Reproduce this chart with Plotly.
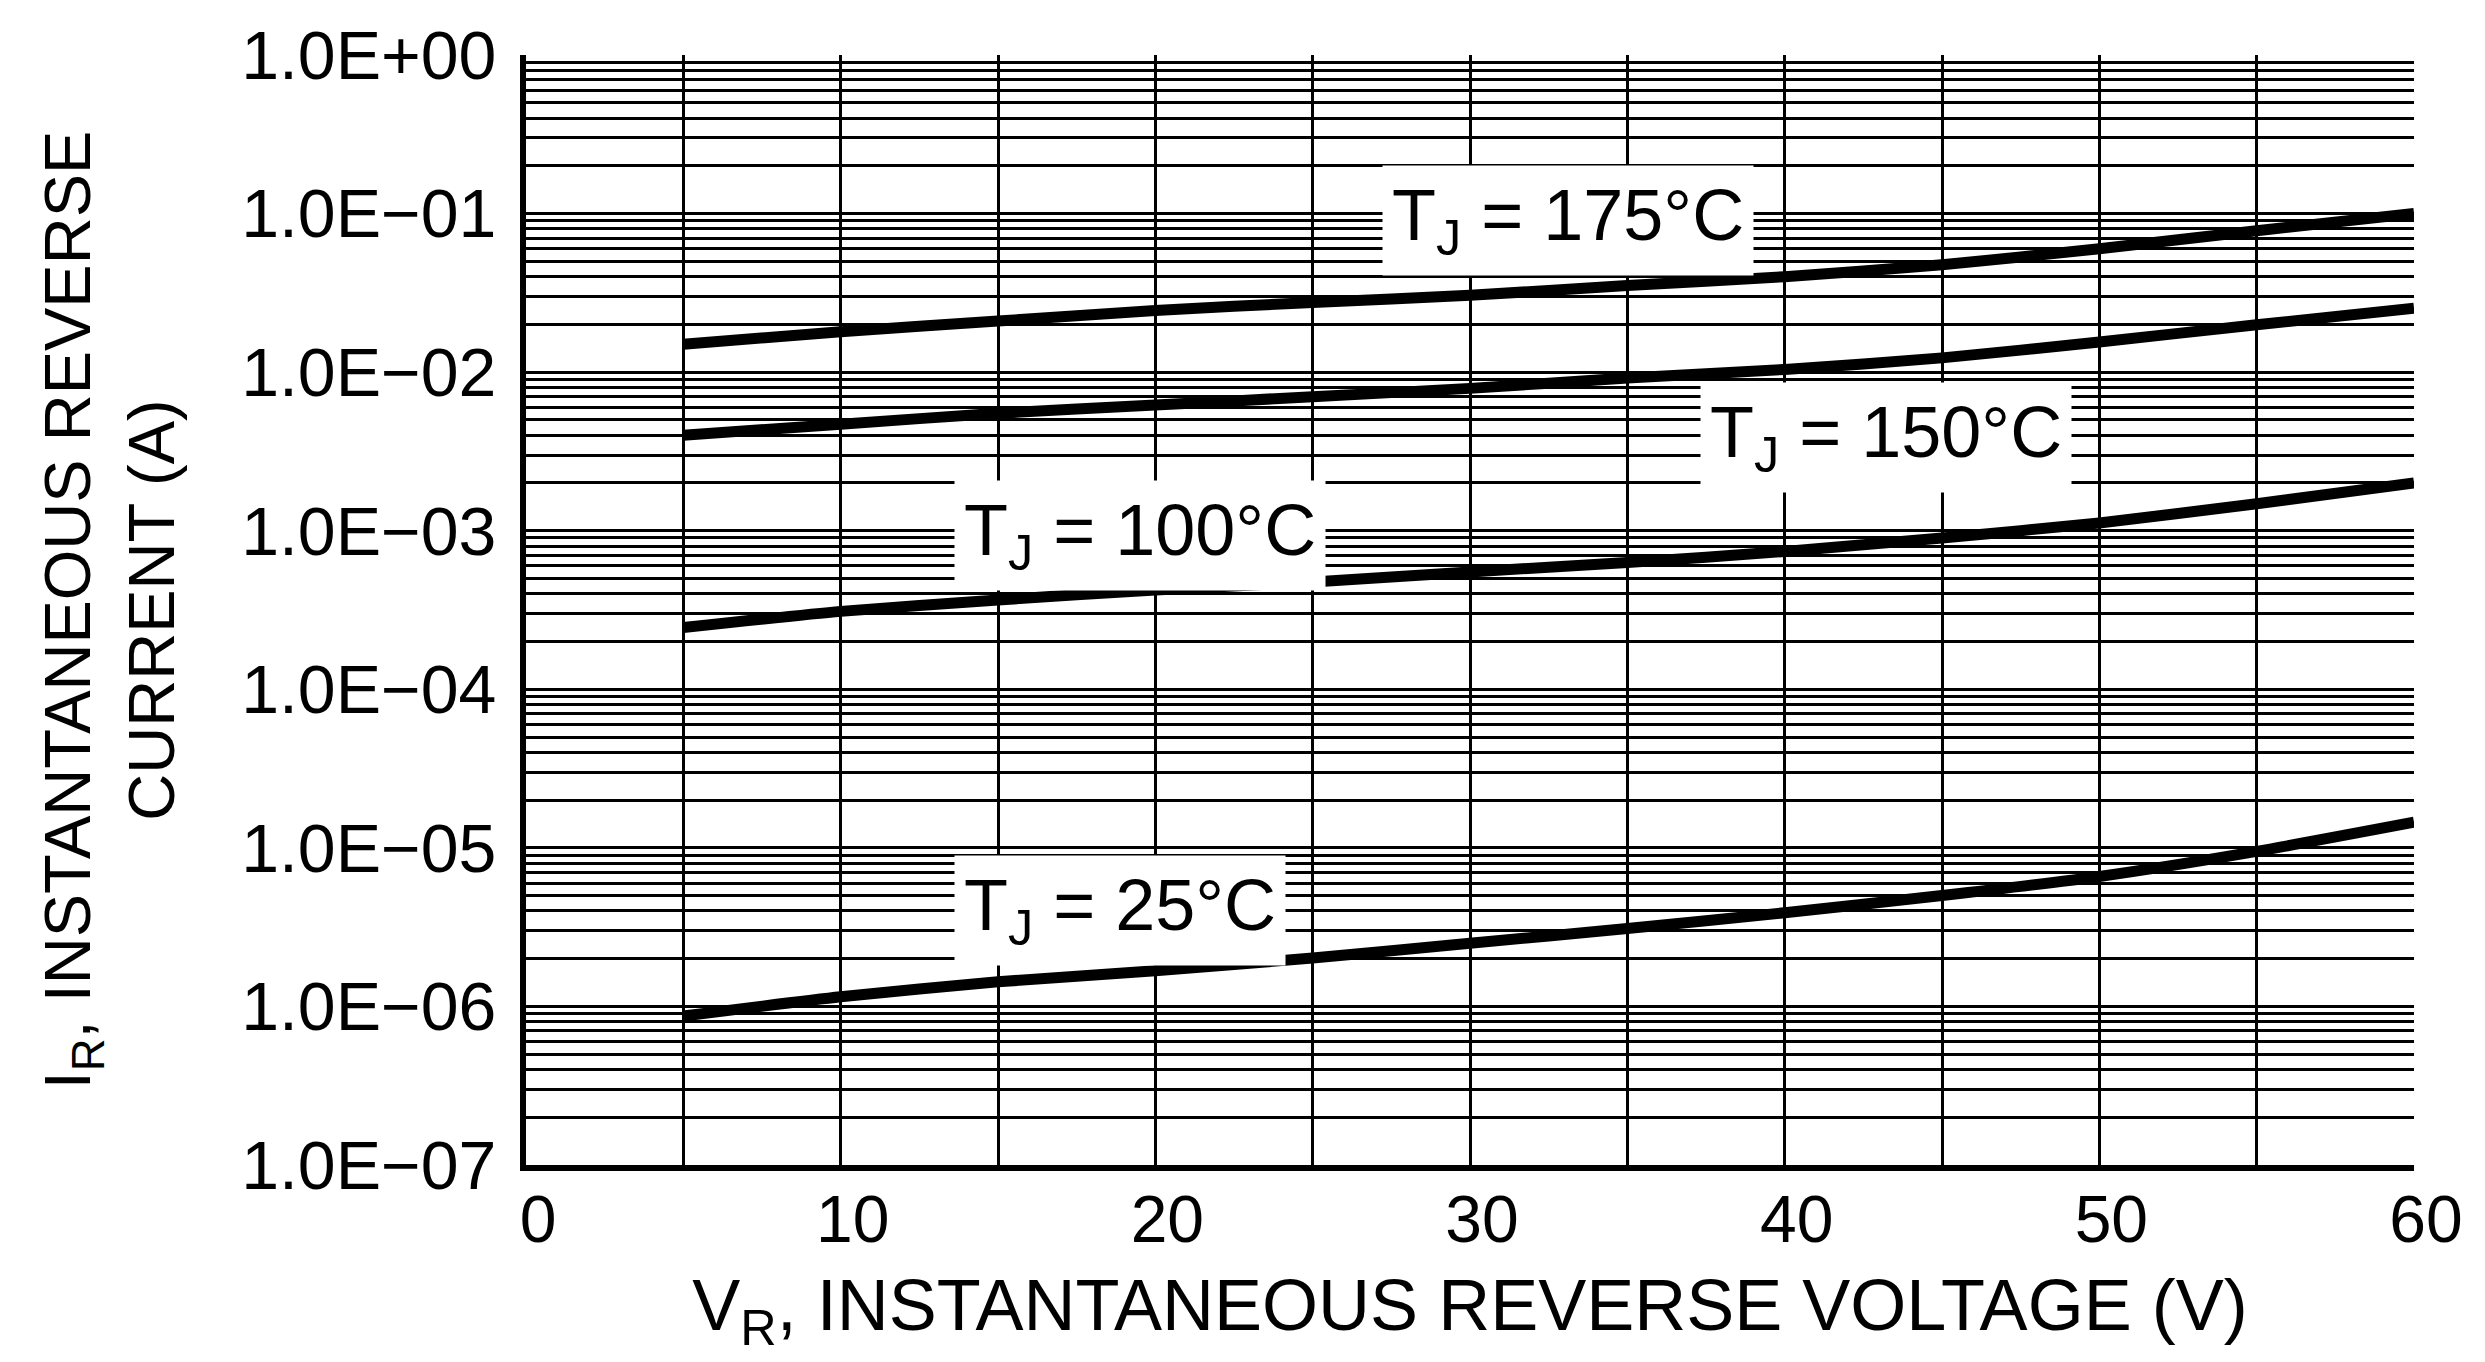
import math
import plotly.graph_objects as go

# ---------------- data ----------------
voltage = [5, 10, 15, 20, 25, 30, 35, 40, 45, 50, 55, 60]

i_175 = [0.0150, 0.0180, 0.0210, 0.0245, 0.0275, 0.0305, 0.0352, 0.0400, 0.0475, 0.0600, 0.0780, 0.1000]
i_150 = [0.0040, 0.0047, 0.0055, 0.0062, 0.0070, 0.0079, 0.0092, 0.0104, 0.0123, 0.0155, 0.0199, 0.0253]
i_100 = [2.45e-4, 3.10e-4, 3.66e-4, 4.23e-4, 4.75e-4, 5.50e-4, 6.30e-4, 7.40e-4, 9.00e-4, 1.12e-3, 1.48e-3, 2.00e-3]
i_25 = [8.7e-7, 1.15e-6, 1.43e-6, 1.68e-6, 2.02e-6, 2.50e-6, 3.10e-6, 3.90e-6, 5.00e-6, 6.60e-6, 9.50e-6, 1.45e-5]

series_names = ["T<sub>J</sub> = 175°C", "T<sub>J</sub> = 150°C", "T<sub>J</sub> = 100°C", "T<sub>J</sub> = 25°C"]
series_values = [i_175, i_150, i_100, i_25]

# label anchor positions (data coords: voltage, current)
label_x = [27.2, 37.3, 13.6, 13.6]
label_y = [0.090, 0.00388, 0.000935, 4.0e-6]

x_tick_vals = [0, 10, 20, 30, 40, 50, 60]
x_tick_text = ["0", "10", "20", "30", "40", "50", "60"]
x_minor_vals = [5, 15, 25, 35, 45, 55]

y_tick_vals = [1e-7, 1e-6, 1e-5, 1e-4, 1e-3, 1e-2, 1e-1, 1.0]
y_tick_text = ["1.0E\u221207", "1.0E\u221206", "1.0E\u221205", "1.0E\u221204",
               "1.0E\u221203", "1.0E\u221202", "1.0E\u221201", "1.0E+00"]
y_minor_mults = [2, 3, 4, 5, 6, 7, 8, 9]

y_minor_vals = [m * d for d in y_tick_vals[:-1] for m in y_minor_mults]

FONT = "Liberation Sans, Arial, Helvetica, sans-serif"

fig = go.Figure()
for name, vals in zip(series_names, series_values):
    fig.add_trace(go.Scatter(
        x=voltage, y=vals, mode="lines", name=name,
        line=dict(color="black", width=11, shape="spline", smoothing=0.6),
        showlegend=False, hoverinfo="skip",
    ))

for name, lx, ly in zip(series_names, label_x, label_y):
    fig.add_annotation(
        x=lx, y=math.log10(ly), xref="x", yref="y",
        text=name, showarrow=False, xanchor="left", yanchor="middle",
        bgcolor="white", borderpad=9,
        font=dict(family=FONT, size=72, color="black"),
    )

# page body has an 8px default margin: compensate so the plot lands at 526..2414 x 55..1165
fig.update_layout(
    width=2485, height=1362,
    margin=dict(l=518, r=79, t=47, b=205),
    plot_bgcolor="white", paper_bgcolor="white",
    font=dict(family=FONT, color="black"),
    showlegend=False,
)

fig.update_xaxes(
    range=[0, 60], tickmode="array", tickvals=x_tick_vals, ticktext=x_tick_text,
    showgrid=True, gridcolor="black", gridwidth=2.5,
    minor=dict(tickmode="array", tickvals=x_minor_vals, showgrid=True,
               gridcolor="black", gridwidth=2.5, ticks=""),
    showline=True, linecolor="black", linewidth=6, zeroline=False,
    ticks="", tickfont=dict(size=66, family=FONT, color="black"),
    ticklabelstandoff=-8, ticklabelshift=12, automargin=False,
    title=dict(text="V<sub>R</sub>, INSTANTANEOUS REVERSE VOLTAGE (V)",
               font=dict(size=72, family=FONT, color="black"), standoff=26),
)

fig.update_yaxes(
    type="log", range=[-7, 0], tickmode="array", tickvals=y_tick_vals, ticktext=y_tick_text,
    showgrid=True, gridcolor="black", gridwidth=2.5,
    minor=dict(tickmode="array", tickvals=y_minor_vals, showgrid=True,
               gridcolor="black", gridwidth=2.5, ticks=""),
    showline=True, linecolor="black", linewidth=6, zeroline=False,
    ticks="", tickfont=dict(size=68, family=FONT, color="black"),
    ticklabelstandoff=10, automargin=False,
    title=dict(text="I<sub>R</sub>, INSTANTANEOUS REVERSE<br>CURRENT (A)",
               font=dict(size=65, family=FONT, color="black"), standoff=47),
)

fig.write_html("out.html")
